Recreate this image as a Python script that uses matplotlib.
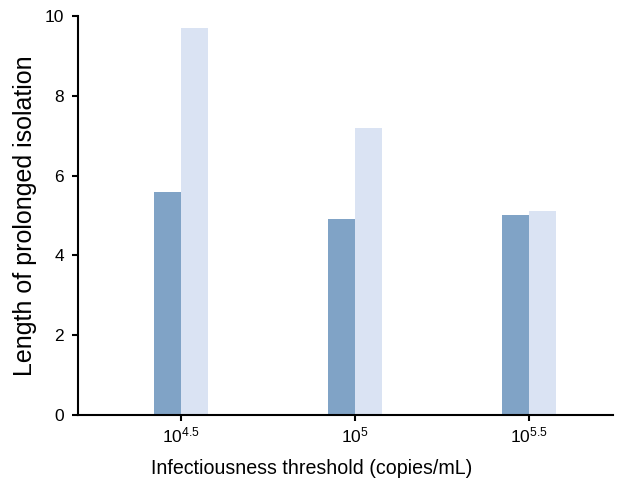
import numpy as np
import matplotlib
matplotlib.use("Agg")
import matplotlib.pyplot as plt

# isolation length per infectiousness threshold, two scenarios
thresholds = [r"$10^{4.5}$", r"$10^{5}$", r"$10^{5.5}$"]
series_a = [5.6, 4.9, 5.0]
series_b = [9.7, 7.2, 5.1]

plt.rcParams['font.family'] = ['Liberation Sans', 'DejaVu Sans']
plt.rcParams['mathtext.fontset'] = 'custom'
plt.rcParams['mathtext.rm'] = 'Liberation Sans'
plt.rcParams['mathtext.it'] = 'Liberation Sans'


def main():
    fig = plt.figure(figsize=(6.3, 4.82), dpi=100)
    ax = fig.add_axes([0.124, 0.139, 0.849, 0.828])

    x = np.arange(len(thresholds))
    width = 0.153
    ax.bar(x - width / 2, series_a, width, color='#80a3c6')
    ax.bar(x + width / 2, series_b, width, color='#dae3f3')

    ax.set_xlim(-0.592, 2.483)
    ax.set_ylim(0, 10)
    ax.set_yticks([0, 2, 4, 6, 8, 10])
    ax.set_xticks(x)
    ax.set_xticklabels(thresholds)

    for side in ['top', 'right']:
        ax.spines[side].set_visible(False)
    for side in ['left', 'bottom']:
        ax.spines[side].set_linewidth(1.5)
    ax.tick_params(width=1.5, length=4, labelsize=12.5)
    ax.tick_params(axis='y', pad=6)

    ax.set_xlabel('Infectiousness threshold (copies/mL)', fontsize=14.1)
    ax.xaxis.set_label_coords(0.436, -0.11)
    ax.set_ylabel('Length of prolonged isolation', fontsize=18, labelpad=6)

    fig.savefig('out.png', dpi=100)


if __name__ == "__main__":
    main()
